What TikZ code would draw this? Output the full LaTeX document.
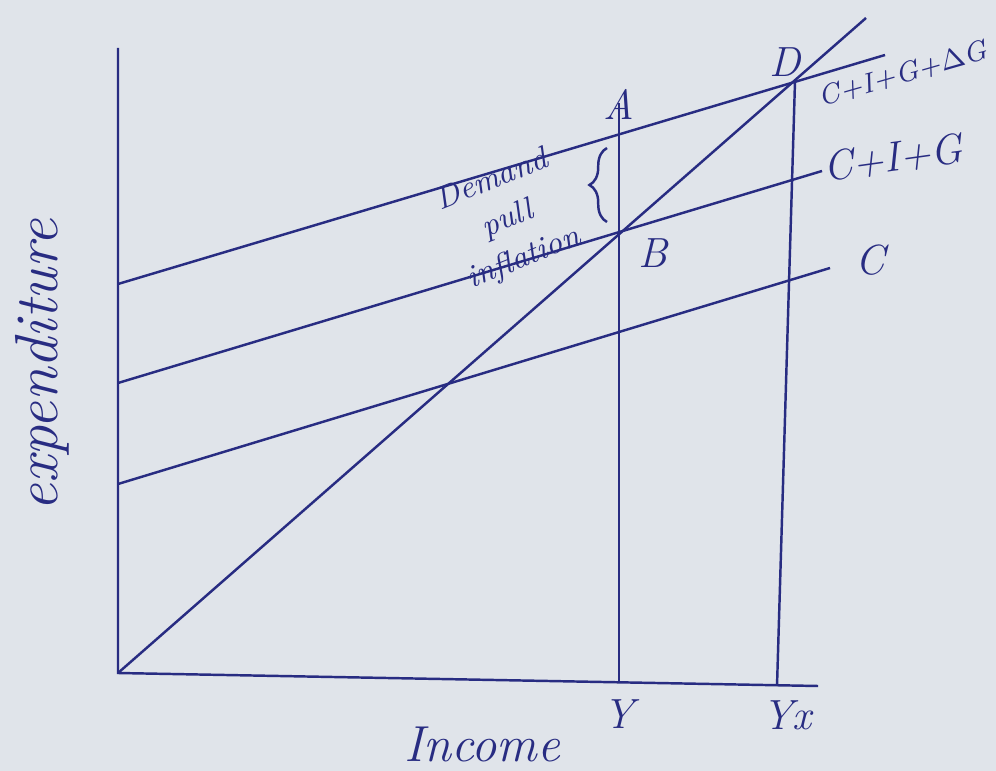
\documentclass[tikz,border=0pt]{standalone}
\usepackage{tikz}
\usetikzlibrary{positioning,decorations.pathreplacing}
\definecolor{ink}{RGB}{40,44,130}
\definecolor{paper}{RGB}{224,228,234}

\begin{document}
\begin{tikzpicture}[
    x=0.1mm, y=-0.1mm,
    inkline/.style={draw=ink, line width=0.7pt},
    lbl/.style={text=ink, font=\large\itshape, inner sep=1pt},
    small/.style={text=ink, font=\small\itshape, inner sep=1pt},
    brace/.style={decorate, decoration={brace, amplitude=5pt}}
]
    % Paper
    \fill[paper] (0,0) rectangle (996,771);
    \useasboundingbox (0,0) rectangle (996,771);

    % Axes
    \coordinate (O) at (118,673);
    \coordinate (ytop) at (118,48);
    \coordinate (xend) at (818,686);
    \draw[inkline] (ytop) -- (O) -- (xend);

    % 45 degree line
    \coordinate (diag) at (866,18);
    \draw[inkline] (O) -- (diag);

    % Aggregate demand lines
    \coordinate (c1) at (118,484);   \coordinate (c2) at (830,268);
    \coordinate (g1) at (118,383);   \coordinate (g2) at (822,171);
    \coordinate (h1) at (118,284);   \coordinate (h2) at (885,55);
    \draw[inkline] (c1) -- (c2);
    \draw[inkline] (g1) -- (g2);
    \draw[inkline] (h1) -- (h2);

    % Points
    \coordinate (A) at (619,134);
    \coordinate (B) at (619,232);
    \coordinate (D) at (795,81);
    \coordinate (Ytop) at (619,103);
    \coordinate (Ytick) at (619,683);
    \coordinate (Yxtick) at (777,686);

    % Verticals
    \draw[inkline] (Ytop) -- (Ytick);
    \draw[inkline] (D) -- (Yxtick);

    % Brace between A and B
    \draw[inkline, brace] (607,222) -- (607,148);

    % Labels
    \node[lbl, above=0.1cm of A] (Alab) {A};
    \node[lbl, below right=0.02cm and 0.15cm of B] (Blab) {B};
    \node[lbl, above=0pt of D, xshift=-0.1cm] (Dlab) {D};
    \node[lbl, font=\footnotesize\itshape, rotate=16] (hlab) at (903,74) {C+I+G+$\Delta$G};
    \node[lbl, rotate=8] (glab) at (893,158) {C+I+G};
    \node[lbl] (clab) at (870,260) {C};
    \node[small, rotate=22, align=center] (dpi) at (508,220) {Demand\\[1pt] pull\\[1pt] inflation};

    \node[lbl, below=0.12cm of Ytick] (Ylab) {Y};
    \node[lbl, below=0.1cm of Yxtick, xshift=0.1cm] (Yxlab) {Yx};
    \node[lbl, font=\Large\itshape] (xlab) at (482,744) {Income};
    \node[lbl, font=\LARGE\itshape, rotate=90] (ylab) at (42,365) {expenditure};
\end{tikzpicture}
\end{document}
